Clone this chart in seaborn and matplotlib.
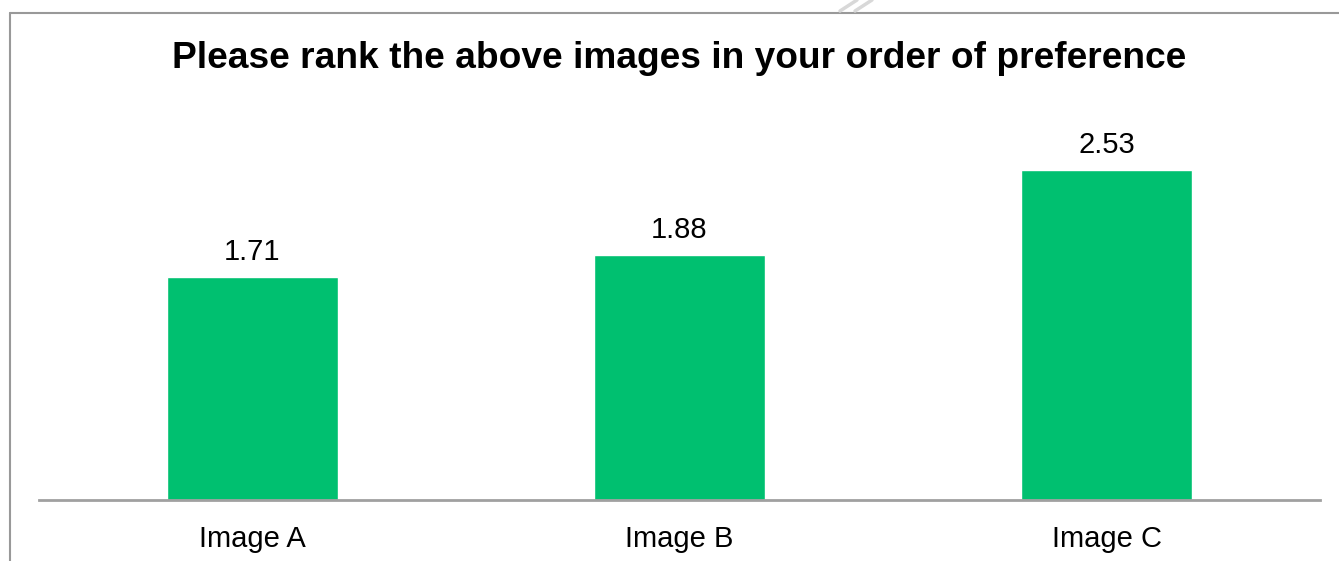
import matplotlib
matplotlib.use("Agg")
import matplotlib.pyplot as plt
import seaborn as sns
import pandas as pd
from matplotlib.lines import Line2D

categories = ["Image A", "Image B", "Image C"]
scores = [1.71, 1.88, 2.53]
title = "Please rank the above images in your order of preference"

sns.set_theme(style="white")
plt.rcParams["font.family"] = ["Liberation Sans", "DejaVu Sans"]

W, H = 1339, 561
fig = plt.figure(figsize=(W / 100, H / 100), dpi=100)
fig.patch.set_facecolor("white")

ax = fig.add_axes([39 / W, 1 - 500 / H, (1320 - 39) / W, (500 - 109) / H])
df = pd.DataFrame({"category": categories, "score": scores})
sns.barplot(data=df, x="category", y="score", color="#00C070", saturation=1,
            width=0.4, ax=ax)

ax.set_xlim(-0.5, 2.5)
ax.set_ylim(0, 3.0)
ax.set_xlabel("")
ax.set_ylabel("")
ax.set_yticks([])
for s in ["top", "right", "left"]:
    ax.spines[s].set_visible(False)
ax.spines["bottom"].set_color("#A0A0A0")
ax.spines["bottom"].set_linewidth(2)
ax.tick_params(axis="x", length=0, labelsize=21, colors="black", pad=18)
ax.set_facecolor("white")

for p, v in zip(ax.patches, scores):
    ax.annotate(f"{v:.2f}", (p.get_x() + p.get_width() / 2, p.get_height()),
                xytext=(0, 8), textcoords="offset points",
                ha="center", va="bottom", fontsize=21, color="black")

fig.text(679 / W, 1 - 58 / H, title, ha="center", va="center",
         fontsize=26.7, fontweight="bold", color="black")

# outer frame (top and left edges)
fig.add_artist(Line2D([9.5 / W, 9.5 / W], [0, 1 - 12.5 / H],
                      transform=fig.transFigure, color="#999999", lw=1.5))
fig.add_artist(Line2D([9.5 / W, 1], [1 - 12.5 / H, 1 - 12.5 / H],
                      transform=fig.transFigure, color="#999999", lw=1.5))
# faint diagonal marks above the frame
for x0 in (840, 855):
    fig.add_artist(Line2D([x0 / W, (x0 + 17) / W], [1 - 11 / H, 1],
                          transform=fig.transFigure, color="#D8D8D8", lw=2.5))

fig.savefig("out.png", dpi=100, facecolor="white")
